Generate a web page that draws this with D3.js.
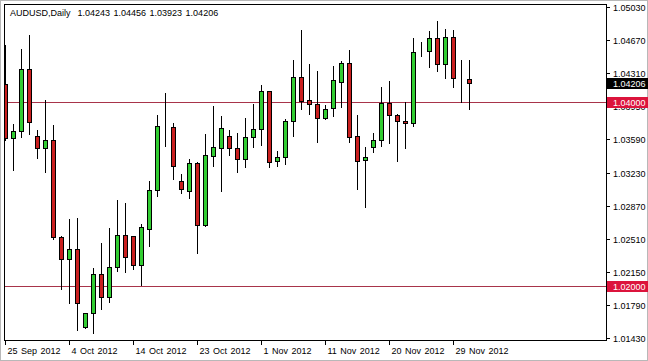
<!DOCTYPE html>
<html>
<head>
<meta charset="utf-8">
<script src="https://cdn.jsdelivr.net/npm/d3@7"></script>
<style>
  body { margin: 0; background: #fff; }
  text { font-family: "Liberation Sans", Arial, sans-serif; font-size: 9px; }
</style>
</head>
<body>
<script>
var width = 648;
var height = 361;

// daily bars, AUDUSD (broker has sunday bars)
var dates = ['25 Sep','26 Sep','27 Sep','28 Sep','30 Sep','1 Oct','2 Oct','3 Oct','4 Oct','5 Oct',
  '7 Oct','8 Oct','9 Oct','10 Oct','11 Oct','12 Oct','14 Oct','15 Oct','16 Oct','17 Oct',
  '18 Oct','19 Oct','21 Oct','22 Oct','23 Oct','24 Oct','25 Oct','26 Oct','28 Oct','29 Oct',
  '30 Oct','31 Oct','1 Nov','2 Nov','4 Nov','5 Nov','6 Nov','7 Nov','8 Nov','9 Nov',
  '11 Nov','12 Nov','13 Nov','14 Nov','15 Nov','16 Nov','18 Nov','19 Nov','20 Nov','21 Nov',
  '22 Nov','23 Nov','25 Nov','26 Nov','27 Nov','28 Nov','29 Nov','30 Nov','2 Dec']

var opens = [1.04189,1.03602,1.03681,1.04352,1.03627,1.03493,1.03583,1.02525,1.02286,1.02395,
  1.01546,1.01698,1.02123,1.01872,1.02199,1.02547,1.02536,1.02221,1.02619,1.03036,
  1.03730,1.03722,1.03137,1.03032,1.03330,1.02656,1.03413,1.03493,1.03624,1.03493,
  1.03373,1.03613,1.03700,1.04113,1.03358,1.03395,1.03787,1.04265,1.04015,1.03972,
  1.03819,1.03928,1.04217,1.04418,1.03624,1.03363,1.03504,1.03583,1.03983,1.03852,
  1.03790,1.03765,1.04548,1.04548,1.04690,1.04410,1.04700,1.04250,1.04243]
var highs = [1.04617,1.03757,1.04570,1.04725,1.03692,1.04018,1.03747,1.02539,1.02724,1.02732,
  1.01705,1.02188,1.02466,1.02623,1.02931,1.02895,1.02539,1.02670,1.03137,1.03855,
  1.04098,1.03765,1.03214,1.03373,1.03347,1.03649,1.03953,1.03844,1.03692,1.03663,
  1.03819,1.03975,1.04182,1.04120,1.03464,1.03812,1.04454,1.04780,1.04410,1.04337,
  1.03964,1.04388,1.04439,1.04562,1.03855,1.03510,1.03656,1.04163,1.04225,1.03863,
  1.04000,1.04690,1.04653,1.04772,1.04878,1.04791,1.04780,1.04454,1.04456]
var lows = [1.03583,1.03257,1.03613,1.03649,1.03384,1.03239,1.02503,1.01959,1.01807,1.01517,
  1.01535,1.01487,1.01742,1.01825,1.02162,1.02151,1.02177,1.02006,1.02434,1.02978,
  1.03521,1.03159,1.03004,1.02949,1.02351,1.02648,1.03304,1.03032,1.03420,1.03239,
  1.03286,1.03510,1.03529,1.03293,1.03304,1.03322,1.03627,1.03917,1.03866,1.03565,
  1.03812,1.03848,1.03946,1.03565,1.03047,1.02858,1.03456,1.03518,1.03554,1.03358,
  1.03500,1.03736,1.04500,1.04374,1.04337,1.04255,1.04157,1.04000,1.03923]
var closes = [1.03602,1.03681,1.04352,1.03776,1.03493,1.03583,1.02525,1.02286,1.02395,1.01814,
  1.01698,1.02123,1.01872,1.02199,1.02547,1.02308,1.02221,1.02634,1.03036,1.03732,
  1.03730,1.03304,1.03047,1.03330,1.02656,1.03420,1.03507,1.03711,1.03493,1.03373,
  1.03613,1.03700,1.04116,1.03347,1.03398,1.03787,1.04265,1.04011,1.03972,1.03819,
  1.03917,1.04233,1.04418,1.03619,1.03358,1.03398,1.03583,1.03983,1.03852,1.03787,
  1.03765,1.04537,1.04548,1.04690,1.04410,1.04700,1.04255,1.04243,1.04206]

var dateLabels = ['25 Sep','4 Oct','14 Oct','23 Oct','1 Nov','11 Nov','20 Nov','29 Nov']
var priceTicks = [1.05030,1.04670,1.04310,1.03950,1.03590,1.03230,1.02870,1.02510,1.02150,1.01790,1.01430]
var levels = [1.04000, 1.02000]
var symbol = 'AUDUSD,Daily'

var bars = dates.map((d, i) => ({date: d, o: opens[i], h: highs[i], l: lows[i], c: closes[i]}))
var last = bars[bars.length - 1]

// note: 'top' is taken by window.top, so prefix these
var pLeft = 4, pRight = 606, pTop = 4, pBottom = 340

var svg = d3.select('body').append('svg')
    .attr('width', width)
    .attr('height', height)

svg.append('rect')
    .attr('x', 0.5).attr('y', 0.5)
    .attr('width', width - 1).attr('height', height - 1)
    .attr('fill', '#fff').attr('stroke', '#b8b8b8')

// 8px per bar, first bar half cut by the frame
var x = d3.scalePoint()
    .domain(dates)
    .range([5, 5 + 8 * (dates.length - 1)])

var y = d3.scaleLinear()
    .domain([1.01430, 1.05030])
    .range([338, 7])

svg.append('clipPath').attr('id', 'plot')
  .append('rect')
    .attr('x', pLeft + 1).attr('y', pTop + 1)
    .attr('width', pRight - pLeft - 1).attr('height', pBottom - pTop - 1)

var plot = svg.append('g').attr('clip-path', 'url(#plot)')

// level lines
plot.selectAll('line.level')
    .data(levels).enter()
    .append('line')
        .attr('class', 'level')
        .attr('x1', pLeft).attr('x2', pRight)
        .attr('y1', d => Math.round(y(d)) + 0.5)
        .attr('y2', d => Math.round(y(d)) + 0.5)
        .attr('stroke', '#a8344a')

var candle = plot.selectAll('g.candle')
    .data(bars).enter()
    .append('g')
        .attr('class', 'candle')

candle.append('line')
    .attr('x1', d => x(d.date) + 0.5)
    .attr('x2', d => x(d.date) + 0.5)
    .attr('y1', d => Math.round(y(d.h)))
    .attr('y2', d => Math.round(y(d.l)) + 1)
    .attr('stroke', '#000')

candle.append('rect')
    .attr('x', d => x(d.date) - 1.5)
    .attr('width', 4)
    .attr('y', d => Math.round(y(Math.max(d.o, d.c))) + 0.5)
    .attr('height', d => Math.max(0, Math.round(y(Math.min(d.o, d.c))) - Math.round(y(Math.max(d.o, d.c)))))
    .attr('fill', d => d.c >= d.o ? '#32cd32' : '#c91f1f')
    .attr('stroke', '#000')

// frame
svg.append('rect')
    .attr('x', pLeft + 0.5).attr('y', pTop + 0.5)
    .attr('width', pRight - pLeft).attr('height', pBottom - pTop)
    .attr('fill', 'none').attr('stroke', '#000')

// price scale
var yAxis = svg.append('g')
priceTicks.forEach(p => {
    var py = Math.round(y(p)) + 0.5
    yAxis.append('line')
        .attr('x1', pRight + 1).attr('x2', pRight + 4)
        .attr('y1', py).attr('y2', py)
        .attr('stroke', '#000')
    yAxis.append('text')
        .attr('x', 613).attr('y', py + 3.5)
        .text(p.toFixed(5))
})

// level price boxes
levels.forEach(p => {
    var py = Math.round(y(p))
    svg.append('rect')
        .attr('x', pRight + 1).attr('y', py - 5)
        .attr('width', 41).attr('height', 11)
        .attr('fill', '#dc143c')
    svg.append('text')
        .attr('x', 613).attr('y', py + 4)
        .attr('fill', '#fff')
        .text(p.toFixed(5))
})

// current price box
var cy = Math.round(y(last.c))
svg.append('rect')
    .attr('x', pRight + 1).attr('y', cy - 5)
    .attr('width', 41).attr('height', 11)
    .attr('fill', '#000')
svg.append('text')
    .attr('x', 613).attr('y', cy + 4)
    .attr('fill', '#fff')
    .text(last.c.toFixed(5))

// time scale
var xAxis = svg.append('g')
dateLabels.forEach(d => {
    var px = x(d) + 0.5
    xAxis.append('line')
        .attr('x1', px).attr('x2', px)
        .attr('y1', pBottom + 1).attr('y2', pBottom + 5)
        .attr('stroke', '#000')
    xAxis.append('text')
        .attr('x', px + 2).attr('y', 354)
        .style('word-spacing', '1px')
        .text(d + ' 2012')
})

svg.append('text')
    .attr('x', 10).attr('y', 16)
    .style('white-space', 'pre')
    .style('word-spacing', '1px')
    .text(symbol + '  ' + [last.o, last.h, last.l, last.c].map(v => v.toFixed(5)).join(' '))
</script>
</body>
</html>
